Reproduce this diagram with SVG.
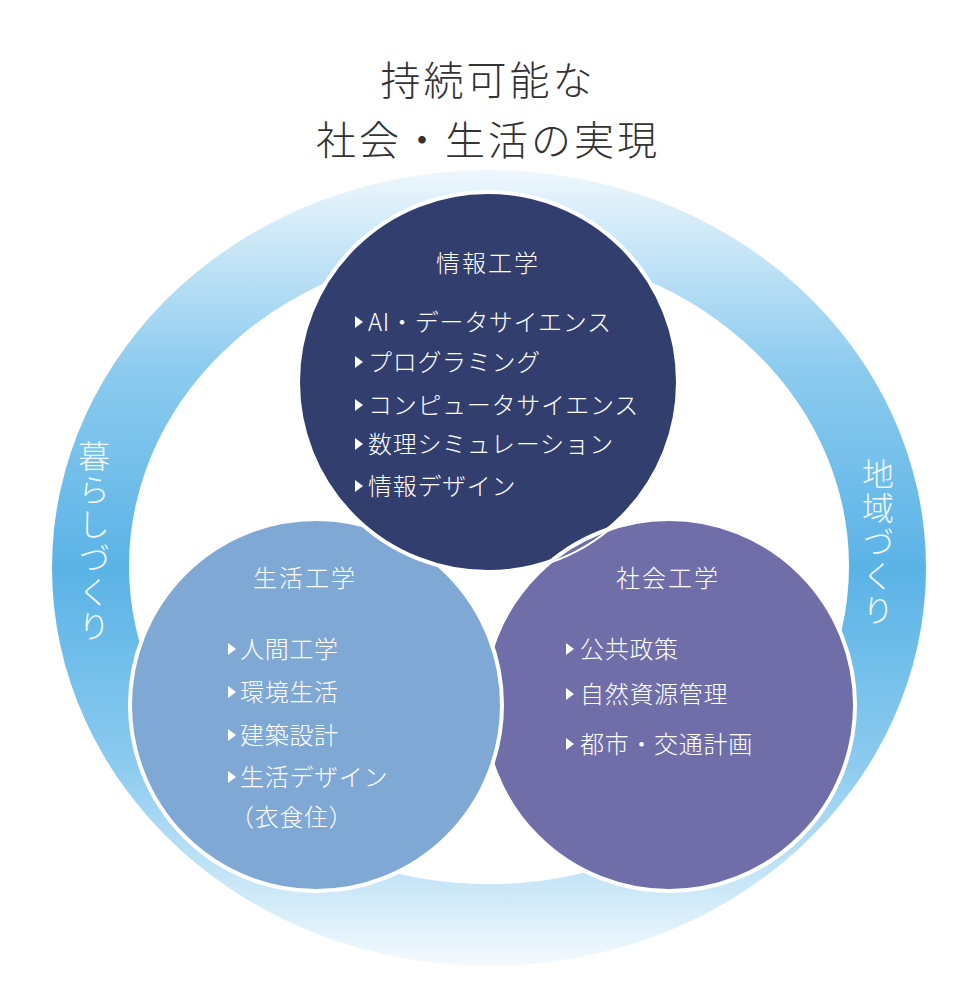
<svg xmlns="http://www.w3.org/2000/svg" width="976" height="998" viewBox="0 0 976 998">
<style>
text{font-family:"Noto Sans CJK JP","Noto Sans",sans-serif;fill:#fff;font-weight:300}
.title{fill:#333;font-size:40px;text-anchor:middle;letter-spacing:3px}
.h{font-size:24px;text-anchor:middle;letter-spacing:2px}
.i{font-size:24px;letter-spacing:0.7px}
.v{font-size:32px;writing-mode:vertical-rl;fill:#f2f8fd;letter-spacing:2px}
.c{stroke:#fff;stroke-width:4}
</style>
<defs>
<linearGradient id="ring" x1="0" y1="0" x2="0" y2="1">
<stop offset="0" stop-color="#eef7fd"/>
<stop offset="0.25" stop-color="#8ccbef"/>
<stop offset="0.5" stop-color="#5ab3e6"/>
<stop offset="0.75" stop-color="#8ccbef"/>
<stop offset="1" stop-color="#f4fafe"/>
</linearGradient>
<clipPath id="topc"><circle cx="488" cy="382" r="190"/></clipPath>
<path id="tri" d="M0,-6 L8,0 L0,6Z" fill="#fff"/>
</defs>
<rect width="976" height="998" fill="#fff"/>
<g id="title">
<text class="title" x="488" y="95">持続可能な</text>
<text class="title" x="488" y="155">社会・生活の実現</text>
</g>
<g id="ring">
<ellipse cx="489" cy="568" rx="437" ry="398" fill="url(#ring)"/>
<ellipse cx="489" cy="566" rx="360" ry="318" fill="#fff"/>
<text class="v" x="94" y="440">暮らしづくり</text>
<text class="v" x="878" y="458">地域づくり</text>
</g>
<g id="social-base"><circle class="c" cx="669" cy="705" r="186" fill="#6f6ea8"/></g>
<g id="life">
<circle class="c" cx="316" cy="705" r="186" fill="#80a8d4"/>
<text class="h" x="305" y="587">生活工学</text>
<use href="#tri" x="228" y="649"/><text class="i" x="240" y="658">人間工学</text>
<use href="#tri" x="228" y="692"/><text class="i" x="240" y="701">環境生活</text>
<use href="#tri" x="228" y="735"/><text class="i" x="240" y="744">建築設計</text>
<use href="#tri" x="228" y="777"/><text class="i" x="240" y="786">生活デザイン</text>
<text class="i" x="230" y="826">（衣食住）</text>
</g>
<g id="info">
<circle class="c" cx="488" cy="382" r="190" fill="#323e6e"/>
<text class="h" x="488" y="272">情報工学</text>
<use href="#tri" x="355" y="322"/><text class="i" x="368" y="331">AI・データサイエンス</text>
<use href="#tri" x="355" y="362"/><text class="i" x="368" y="371">プログラミング</text>
<use href="#tri" x="355" y="405"/><text class="i" x="368" y="414">コンピュータサイエンス</text>
<use href="#tri" x="355" y="444"/><text class="i" x="368" y="453">数理シミュレーション</text>
<use href="#tri" x="355" y="486"/><text class="i" x="368" y="495">情報デザイン</text>
</g>
<g id="social">
<circle class="c" cx="669" cy="705" r="186" fill="#6f6ea8" clip-path="url(#topc)"/>
<text class="h" x="668" y="587">社会工学</text>
<use href="#tri" x="566" y="649"/><text class="i" x="580" y="658">公共政策</text>
<use href="#tri" x="566" y="694"/><text class="i" x="580" y="703">自然資源管理</text>
<use href="#tri" x="566" y="744"/><text class="i" x="580" y="753">都市・交通計画</text>
</g>
<g id="connectors"/>
</svg>
